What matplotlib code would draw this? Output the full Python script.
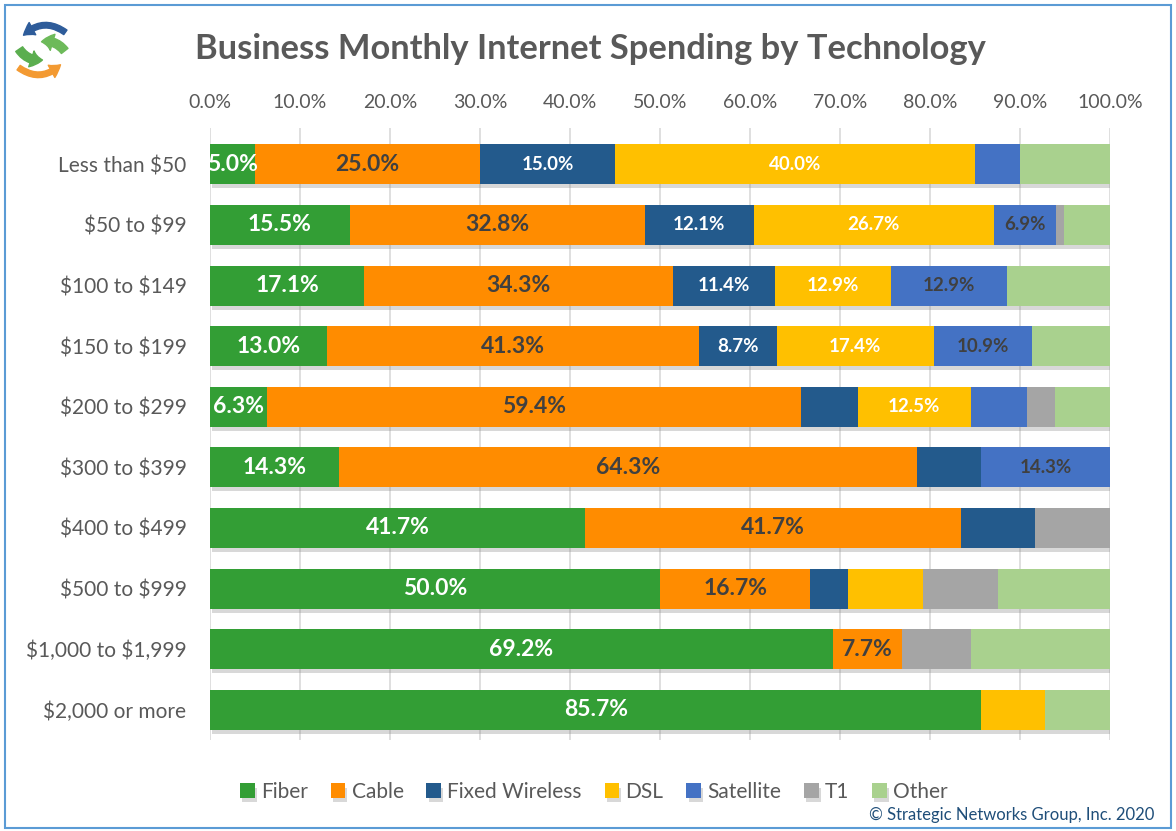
import numpy as np
import matplotlib
matplotlib.use("Agg")
from matplotlib import pyplot as plt
from matplotlib.patches import FancyArrowPatch, Rectangle
import matplotlib.patheffects as pe

plt.rcParams['font.family'] = ['Lato', 'DejaVu Sans']

categories = ['Less than $50', '$50 to $99', '$100 to $149', '$150 to $199',
              '$200 to $299', '$300 to $399', '$400 to $499', '$500 to $999',
              '$1,000 to $1,999', '$2,000 or more']
technologies = ['Fiber', 'Cable', 'Fixed Wireless', 'DSL', 'Satellite', 'T1', 'Other']

fiber     = [5.0, 15.5, 17.1, 13.0, 6.3, 14.3, 41.7, 50.0, 69.2, 85.7]
cable     = [25.0, 32.8, 34.3, 41.3, 59.4, 64.3, 41.7, 16.7, 7.7, 0.0]
fixed_wl  = [15.0, 12.1, 11.4, 8.7, 6.3, 7.1, 8.3, 4.2, 0.0, 0.0]
dsl       = [40.0, 26.7, 12.9, 17.4, 12.5, 0.0, 0.0, 8.3, 0.0, 7.1]
satellite = [5.0, 6.9, 12.9, 10.9, 6.3, 14.3, 0.0, 0.0, 0.0, 0.0]
t1        = [0.0, 0.9, 0.0, 0.0, 3.1, 0.0, 8.3, 8.3, 7.7, 0.0]
other     = [10.0, 5.1, 11.4, 8.7, 6.3, 0.0, 0.0, 12.5, 15.4, 7.2]

# which segments get a value label (Excel only showed some of them)
show_fiber     = [1, 1, 1, 1, 1, 1, 1, 1, 1, 1]
show_cable     = [1, 1, 1, 1, 1, 1, 1, 1, 1, 0]
show_fixed_wl  = [1, 1, 1, 1, 0, 0, 0, 0, 0, 0]
show_dsl       = [1, 1, 1, 1, 1, 0, 0, 0, 0, 0]
show_satellite = [0, 1, 1, 1, 0, 1, 0, 0, 0, 0]

colors = ['#339E35', '#FF8C00', '#235A8C', '#FFC000', '#4472C4', '#A5A5A5', '#A9D18E']
label_colors = ['white', '#404040', 'white', 'white', '#404040', 'white', 'white']
label_sizes = [16.5, 16.5, 13.5, 13.5, 13.5, 13.5, 13.5]

series = [fiber, cable, fixed_wl, dsl, satellite, t1, other]
shows = [show_fiber, show_cable, show_fixed_wl, show_dsl, show_satellite, None, None]

fig = plt.figure(figsize=(11.76, 8.31), dpi=100)
ax = fig.add_axes([0.1786, 0.1095, 0.7653, 0.7365])

y = np.arange(len(categories))
left = np.zeros(len(categories))
shadow = [pe.SimplePatchShadow(offset=(1.5, -3), shadow_rgbFace='#808080', alpha=0.3), pe.Normal()]
for i, vals in enumerate(series):
    vals = np.array(vals)
    bars = ax.barh(y, vals, left=left, height=0.66, color=colors[i], label=technologies[i], zorder=3)
    for b in bars:
        b.set_path_effects(shadow)
    if shows[i] is not None:
        for j, v in enumerate(vals):
            if shows[i][j]:
                ax.text(left[j] + v / 2, y[j], '%.1f%%' % v, ha='center', va='center',
                        color=label_colors[i], fontsize=label_sizes[i], fontweight='bold',
                        zorder=5, clip_on=True)
    left = left + vals

ax.set_xlim(0, 100)
ax.set_ylim(9.5, -0.6)
ax.set_xticks(np.arange(0, 101, 10))
ax.set_xticklabels(['%.1f%%' % t for t in np.arange(0, 101, 10)])
ax.xaxis.tick_top()
ax.set_yticks(y)
ax.set_yticklabels([c.replace('$', r'\$') for c in categories])
ax.tick_params(axis='both', length=0, colors='#595959')
ax.tick_params(axis='x', pad=12, labelsize=14)
ax.tick_params(axis='y', pad=17, labelsize=15)
ax.grid(axis='x', color='#D9D9D9', linewidth=1.2, zorder=0)
for s in ax.spines.values():
    s.set_visible(False)

fig.text(0.502, 0.941, 'Business Monthly Internet Spending by Technology', ha='center', va='center',
         fontsize=24.8, fontweight='bold', color='#595959')

leg = fig.legend(loc='center', bbox_to_anchor=(0.505, 0.047), ncol=7, frameon=False,
                 fontsize=15, handlelength=0.7, handleheight=0.7, handletextpad=0.3,
                 columnspacing=1.1, labelcolor='#595959')

fig.text(0.982, 0.019, '\u00a9 Strategic Networks Group, Inc. 2020', ha='right', va='center',
         fontsize=12, color='#1F4E79')

# outer frame
fig.patches.append(Rectangle((0.004, 0.004), 0.992, 0.99, transform=fig.transFigure,
                             fill=False, edgecolor='#5B9BD5', linewidth=1.5))

# logo: circling arrows
lax = fig.add_axes([10 / 1176, 1 - 82 / 831, 64 / 1176, 64 / 831])
lax.set_xlim(0, 1)
lax.set_ylim(0, 1)
lax.axis('off')
lax.add_patch(FancyArrowPatch((0.9, 0.75), (0.18, 0.7), connectionstyle='arc3,rad=0.45',
                              arrowstyle='simple,head_length=8,head_width=10,tail_width=4',
                              color='#2E5C9A'))
lax.add_patch(FancyArrowPatch((0.12, 0.55), (0.55, 0.35), connectionstyle='arc3,rad=0.35',
                              arrowstyle='simple,head_length=8,head_width=12,tail_width=6',
                              color='#5BAE4F'))
lax.add_patch(FancyArrowPatch((0.88, 0.45), (0.45, 0.62), connectionstyle='arc3,rad=0.35',
                              arrowstyle='simple,head_length=8,head_width=12,tail_width=6',
                              color='#6DBA5A'))
lax.add_patch(FancyArrowPatch((0.1, 0.25), (0.82, 0.3), connectionstyle='arc3,rad=0.45',
                              arrowstyle='simple,head_length=8,head_width=10,tail_width=4',
                              color='#F39A32'))

fig.savefig('out.png', dpi=100)
